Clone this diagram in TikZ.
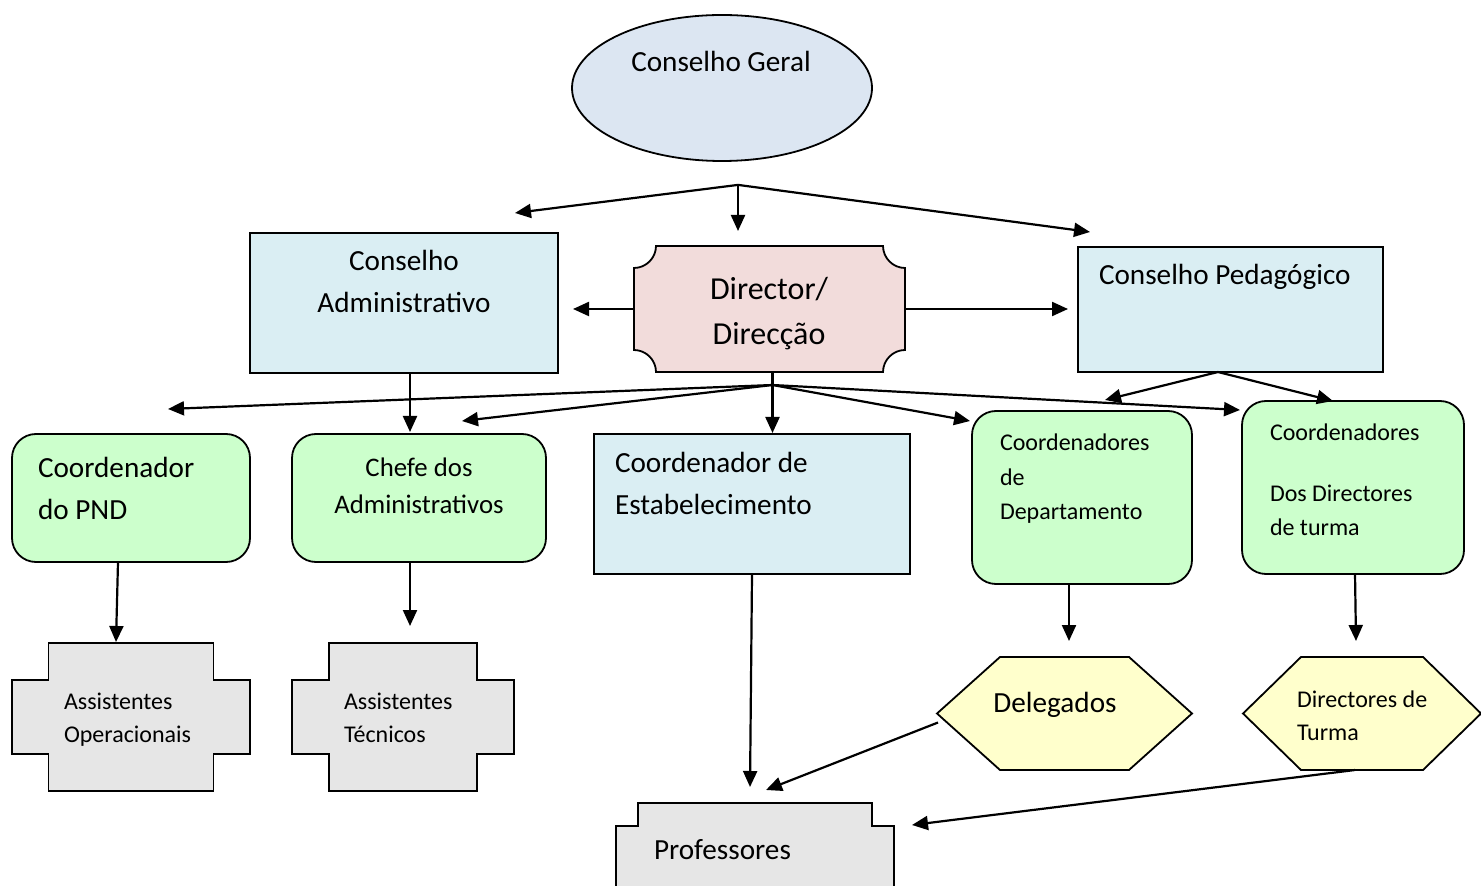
\documentclass[tikz,border=0pt]{standalone}
\usepackage{fontspec}
\setmainfont{Carlito}
\usetikzlibrary{arrows.meta,calc,shapes.geometric}

\definecolor{geralblue}{HTML}{DCE6F2}
\definecolor{paleblue}{HTML}{DAEEF3}
\definecolor{dirpink}{HTML}{F2DCDB}
\definecolor{palegreen}{HTML}{CCFFCC}
\definecolor{palegrey}{HTML}{E6E6E6}
\definecolor{paleyellow}{HTML}{FFFFCC}

\newcommand\fbig{\fontsize{14.6}{17}\selectfont}
\newcommand\fdir{\fontsize{16}{19}\selectfont}
\newcommand\fmid{\fontsize{13.4}{16}\selectfont}
\newcommand\fsmall{\fontsize{12}{14}\selectfont}

% outline of a plus-like box: node, x inset, y inset, fill
\newcommand\crossoutline[4]{%
  \draw[outline, fill=#4]
    ($(#1.north west)+(#2,0)$) -- ($(#1.north east)+(-#2,0)$)
    -- ($(#1.north east)+(-#2,#3)$) -- ($(#1.north east)+(0,#3)$)
    -- ($(#1.south east)+(0,-#3)$) -- ($(#1.south east)+(-#2,-#3)$)
    -- ($(#1.south east)+(-#2,0)$) -- ($(#1.south west)+(#2,0)$)
    -- ($(#1.south west)+(#2,-#3)$) -- ($(#1.south west)+(0,-#3)$)
    -- ($(#1.north west)+(0,#3)$) -- ($(#1.north west)+(#2,#3)$) -- cycle;}

% outline of a hexagon: node, x inset, fill
\newcommand\hexoutline[3]{%
  \draw[outline, fill=#3]
    (#1.west) -- ($(#1.north west)+(#2,0)$) -- ($(#1.north east)+(-#2,0)$)
    -- (#1.east) -- ($(#1.south east)+(-#2,0)$) -- ($(#1.south west)+(#2,0)$) -- cycle;}

\begin{document}
\begin{tikzpicture}[x=0.5pt, y=-0.5pt,
  outline/.style={draw=black, line width=0.9pt, line join=miter},
  frame/.style={outline, rectangle, inner sep=0pt, outer sep=0pt},
  rframe/.style={frame, rounded corners=12pt},
  ghost/.style={rectangle, inner sep=0pt, outer sep=0pt},
  arr/.style={line width=1.1pt, -{Triangle[length=8pt,width=7pt]}},
  lbl/.style={inner sep=0pt, outer sep=0pt, text=black}]

\clip (0,0) rectangle (1481,886);
\fill[white] (0,0) rectangle (1481,886);

% boxes
\node[ellipse, outline, fill=geralblue, minimum width=150pt, minimum height=73pt, inner sep=0pt] (geral) at (722,88) {};
\node[frame, fill=paleblue, minimum width=154pt, minimum height=70pt] (cadm) at (404,303) {};
\node[ghost, minimum width=135.5pt, minimum height=63pt] (dir) at (769.5,309) {};
\node[frame, fill=paleblue, minimum width=152.5pt, minimum height=62.5pt] (cped) at (1230.5,309.5) {};
\node[rframe, fill=palegreen, minimum width=119pt, minimum height=64pt] (pnd) at (131,498) {};
\node[rframe, fill=palegreen, minimum width=127pt, minimum height=64pt] (chefe) at (419,498) {};
\node[frame, fill=paleblue, minimum width=158pt, minimum height=70pt] (cest) at (752,504) {};
\node[rframe, fill=palegreen, minimum width=110pt, minimum height=86.5pt] (cdep) at (1082,497.5) {};
\node[rframe, fill=palegreen, minimum width=111pt, minimum height=86.5pt] (cdt) at (1353,487.5) {};
\node[ghost, minimum width=119pt, minimum height=74pt] (aop) at (131,717) {};
\node[ghost, minimum width=111pt, minimum height=74pt] (atec) at (403,717) {};
\node[ghost, minimum width=139pt, minimum height=64pt] (prof) at (755,867) {};
\node[ghost, minimum width=127.5pt, minimum height=56.5pt] (deleg) at (1064.5,713.5) {};
\node[ghost, minimum width=119pt, minimum height=56.5pt] (dturma) at (1362,713.5) {};

% plaque with concave corners
\draw[outline, fill=dirpink]
  ($(dir.north west)+(22,0)$) -- ($(dir.north east)+(-22,0)$)
  .. controls +(0,12) and +(-12,0) .. ($(dir.north east)+(0,22)$)
  -- ($(dir.south east)+(0,-22)$)
  .. controls +(-12,0) and +(0,-12) .. ($(dir.south east)+(-22,0)$)
  -- ($(dir.south west)+(22,0)$)
  .. controls +(0,-12) and +(12,0) .. ($(dir.south west)+(0,-22)$)
  -- ($(dir.north west)+(0,22)$)
  .. controls +(12,0) and +(0,12) .. ($(dir.north west)+(22,0)$) -- cycle;

\crossoutline{aop}{36.5}{37}{palegrey}
\crossoutline{atec}{37}{37}{palegrey}
\crossoutline{prof}{22}{23}{palegrey}
\hexoutline{deleg}{63}{paleyellow}
\hexoutline{dturma}{58}{paleyellow}

% texts
\node[lbl, anchor=base, font=\fbig] (tgeral) at (721,72) {Conselho Geral};
\node[lbl, anchor=base, font=\fbig] (tcadm1) at (404,271) {Conselho};
\node[lbl, anchor=base, font=\fbig] (tcadm2) at (404,313) {Administrativo};
\node[lbl, anchor=base, font=\fdir] (tdir1) at (769,300) {Director/};
\node[lbl, anchor=base, font=\fdir] (tdir2) at (769,345) {Direcção};
\node[lbl, anchor=base west, font=\fbig] (tcped) at (1099,285) {Conselho Pedagógico};
\node[lbl, anchor=base west, font=\fbig] (tpnd1) at (38,478) {Coordenador};
\node[lbl, anchor=base west, font=\fbig] (tpnd2) at (38,520) {do PND};
\node[lbl, anchor=base, font=\fmid] (tchefe1) at (419,477) {Chefe dos};
\node[lbl, anchor=base, font=\fmid] (tchefe2) at (419,514) {Administrativos};
\node[lbl, anchor=base west, font=\fbig] (tcest1) at (615,473) {Coordenador de};
\node[lbl, anchor=base west, font=\fbig] (tcest2) at (615,515) {Estabelecimento};
\node[lbl, anchor=base west, font=\fsmall] (tcdep1) at (1000,451) {Coordenadores};
\node[lbl, anchor=base west, font=\fsmall] (tcdep2) at (1000,486) {de};
\node[lbl, anchor=base west, font=\fsmall] (tcdep3) at (1000,520) {Departamento};
\node[lbl, anchor=base west, font=\fsmall] (tcdt1) at (1270,441) {Coordenadores};
\node[lbl, anchor=base west, font=\fsmall] (tcdt2) at (1270,502) {Dos Directores};
\node[lbl, anchor=base west, font=\fsmall] (tcdt3) at (1270,536) {de turma};
\node[lbl, anchor=base west, font=\fsmall] (taop1) at (64,709) {Assistentes};
\node[lbl, anchor=base west, font=\fsmall] (taop2) at (64,742) {Operacionais};
\node[lbl, anchor=base west, font=\fsmall] (tatec1) at (344,709) {Assistentes};
\node[lbl, anchor=base west, font=\fsmall] (tatec2) at (344,742) {Técnicos};
\node[lbl, anchor=base, font=\fbig] (tdeleg) at (1055,712) {Delegados};
\node[lbl, anchor=base west, font=\fsmall] (tdt1) at (1297,707) {Directores de};
\node[lbl, anchor=base west, font=\fsmall] (tdt2) at (1297,740) {Turma};
\node[lbl, anchor=base west, font=\fbig] (tprof) at (654,859) {Professores};

% connectors from the general council
\coordinate (g0) at ($(geral.south)+(16,23)$);
\draw[arr] (g0) -- ($(cadm.north east)+(-43,-20)$);
\draw[arr] (g0) -- ($(dir.north)+(-31.5,-15)$);
\draw[arr] (g0) -- ($(cped.north west)+(12,-15)$);

% director to both councils
\draw[arr] (dir.west) -- ($(cadm.east)+(15,6)$);
\draw[arr] (dir.east) -- ($(cped.west)+(-10,-0.5)$);

% director fan
\coordinate (d0) at ($(dir.south)+(3,13)$);
\draw[line width=1.1pt] ($(dir.south)+(3,0)$) -- (d0);
\draw[arr] (d0) -- ($(pnd.north)+(37,-25)$);
\draw[arr] (d0) -- ($(chefe.north)+(43,-13)$);
\draw[arr] (d0) -- ($(cest.north)+(20.5,-1)$);
\draw[arr] (d0) -- ($(cdep.north west)+(-2,10)$);
\draw[arr] (d0) -- ($(cdt.north west)+(-2,9)$);

% administrative council
\draw[arr] ($(cadm.south)+(6,0)$) -- ($(chefe.north)+(-9,-2)$);

% pedagogical council fan
\coordinate (p0) at ($(cped.south)+(-12.5,0)$);
\draw[arr] (p0) -- ($(cdep.north)+(23,-11)$);
\draw[arr] (p0) -- ($(cdt.north)+(-20,0)$);

% lower level
\draw[arr] ($(pnd.south)+(-13,0)$) -- ($(aop.north)+(-15,-1)$);
\draw[arr] ($(chefe.south)+(-9,0)$) -- ($(atec.north)+(7,-17)$);
\draw[arr] (cest.south) -- ($(prof.north)+(-5,-16)$);
\draw[arr] ($(cdep.south)+(-13,0)$) -- ($(deleg.north)+(4.5,-16)$);
\draw[arr] ($(cdt.south)+(2,0)$) -- ($(dturma.north)+(-6,-16)$);
\draw[arr] ($(deleg.west)+(1,9)$) -- ($(prof.north)+(11,-13)$);
\draw[arr] ($(dturma.south)+(-7,0)$) -- ($(prof.north east)+(18,22)$);

\end{tikzpicture}
\end{document}
